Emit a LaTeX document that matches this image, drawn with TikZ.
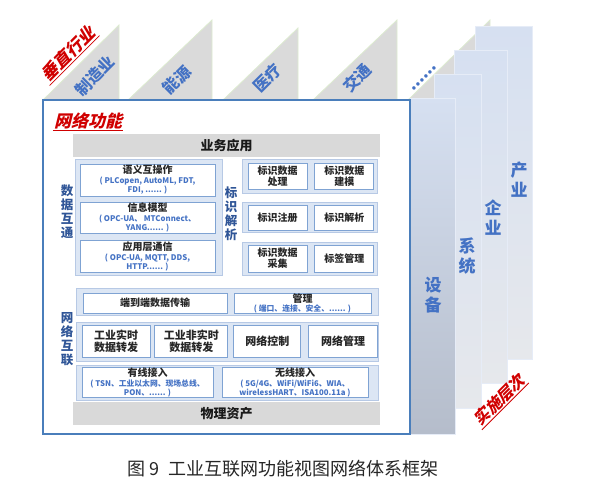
\documentclass[tikz,border=0pt]{standalone}
\usepackage{fontspec}
\setmainfont{Noto Sans CJK SC}
\newfontfamily\slantfont{Noto Sans CJK SC}[FakeSlant=0.25]
\usepackage{tikz}
\usetikzlibrary{positioning}
\usepackage{xcolor}

\definecolor{frameblue}{HTML}{4A7EBB}
\definecolor{grpfill}{HTML}{DCE6F4}
\definecolor{grpline}{HTML}{B7C9E5}
\definecolor{cellline}{HTML}{7FA3D3}
\definecolor{bargray}{HTML}{D9D9D9}
\definecolor{txtblue}{HTML}{4472C4}
\definecolor{sideblue}{HTML}{2F5597}
\definecolor{tagred}{HTML}{D00000}
\definecolor{trigray}{HTML}{DADADA}
\definecolor{triline}{HTML}{DDEBD0}
\definecolor{coltop}{HTML}{D6E0F1}
\definecolor{colmid}{HTML}{AAB1BE}
\definecolor{colbot}{HTML}{E6E8EC}

\newcommand{\subtxt}[1]{{\color{txtblue}\fontsize{7.8}{8.5}\selectfont #1}}

\begin{document}
\begin{tikzpicture}[x=1pt, y=-1pt,
    tri/.style={fill=trigray, draw=triline, line width=0.8pt},
    col/.style={draw=coltop!60!white, line width=0.6pt, top color=coltop, middle color=colmid, bottom color=colbot},
    grp/.style={draw=grpline, fill=grpfill, line width=1pt, inner sep=0pt},
    cell/.style={draw=cellline, fill=white, line width=0.9pt, inner sep=0pt, align=center, text=black!85, font=\bfseries\fontsize{10}{11}\selectfont},
    bar/.style={fill=bargray, inner sep=0pt, text=black!90, font=\bfseries\fontsize{13}{14}\selectfont},
    ind/.style={rotate=45, text=txtblue, font=\bfseries\fontsize{16}{16}\selectfont},
    lvl/.style={text=txtblue, align=center, font=\bfseries\fontsize{17}{20}\selectfont},
    side/.style={text=sideblue, align=center, font=\bfseries\fontsize{12.5}{14}\selectfont},
    tag/.style={text=tagred, inner sep=1pt, font=\slantfont\bfseries\fontsize{17}{17}\selectfont}]
    \useasboundingbox (0,0) rectangle (596,496);

    % Vertical industries
    \draw[tri] (43,100) -- (119,25) -- (119,100) -- cycle;
    \draw[tri] (128,100) -- (212,20) -- (212,100) -- cycle;
    \draw[tri] (223,100) -- (298,28) -- (298,100) -- cycle;
    \draw[tri] (313,100) -- (397,20) -- (397,100) -- cycle;
    \draw[tri] (408,100) -- (490,20) -- (490,100) -- cycle;
    \node (manu) [ind] at (95,76) {制造业};
    \node (energy) [ind] at (177,80) {能源};
    \node (med) [ind] at (267,78) {医疗};
    \node (traffic) [ind] at (357,78) {交通};
    \node (more) [ind] at (424,78) {......};
    \node (vert) [tag, rotate=45] at (68,54) {垂直行业};
    \draw[tagred, line width=0.8pt] (vert.south west) -- (vert.south east);

    % Implementation levels
    \path[col] (475,26) rectangle (532,359);
    \path[col] (454,50) rectangle (507,383);
    \path[col] (434,74) rectangle (481,408);
    \path[col, middle color=coltop!55!colmid, bottom color=colmid!75!coltop] (410,98) rectangle (455,434);
    \node (indus) [lvl] at (519,180) {产\\业};
    \node (ent) [lvl] at (493,218) {企\\业};
    \node (sys) [lvl] at (467,256) {系\\统};
    \node (dev) [lvl] at (433,295) {设\\备};
    \node (impl) [tag, rotate=45, font=\slantfont\bfseries\fontsize{16}{16}\selectfont] at (499,400) {实施层次};
    \draw[tagred, line width=0.8pt] (impl.south west) -- (impl.south east);

    % Network function frame
    \draw[frameblue, line width=1.5pt, fill=white] (43,100) rectangle (410,434);
    \node (netfn) [tag] at (88,121) {网络功能};
    \draw[tagred, line width=0.8pt] (netfn.south west) -- (netfn.south east);

    \node (bizapp) [bar, minimum width=307, minimum height=23] at (226.5,145.5) {业务应用};
    \node (phys) [bar, minimum width=307, minimum height=23] at (226.5,413.5) {物理资产};

    % Data interoperability
    \node (datagrp) [grp, minimum width=147, minimum height=116] at (148.5,217) {};
    \node (datalbl) [side] at (67,212) {数\\据\\互\\通};
    \node (sem) [cell, minimum width=135, minimum height=32] at (147.5,180)
        {语义互操作\\[-1pt]\subtxt{( PLCopen, AutoML, FDT,}\\[-2pt]\subtxt{FDI, ...... )}};
    \node (info) [cell, minimum width=135, minimum height=31] at (147.5,217.5)
        {信息模型\\[-1pt]\subtxt{( OPC-UA、 MTConnect、}\\[-2pt]\subtxt{YANG...... )}};
    \node (comm) [cell, minimum width=135, minimum height=32] at (147.5,256)
        {应用层通信\\[-1pt]\subtxt{( OPC-UA, MQTT, DDS,}\\[-2pt]\subtxt{HTTP...... )}};

    % Identifier resolution
    \node (idlbl) [side] at (231,214) {标\\识\\解\\析};
    \node (idgrp1) [grp, minimum width=135, minimum height=34] at (309.5,176) {};
    \node (idgrp2) [grp, minimum width=135, minimum height=30] at (309.5,217) {};
    \node (idgrp3) [grp, minimum width=135, minimum height=33] at (309.5,258.5) {};
    \node (idproc) [cell, minimum width=59, minimum height=26] at (277.5,176) {标识数据\\处理};
    \node (idmodel) [cell, minimum width=59, minimum height=26, right=7pt of idproc] {标识数据\\建模};
    \node (idreg) [cell, minimum width=59, minimum height=25] at (277.5,217.5) {标识注册};
    \node (idres) [cell, minimum width=59, minimum height=25, right=7pt of idreg] {标识解析};
    \node (idcol) [cell, minimum width=59, minimum height=27] at (277.5,258.5) {标识数据\\采集};
    \node (tagmgr) [cell, minimum width=59, minimum height=27, right=7pt of idcol] {标签管理};

    % Network interconnection
    \node (netlbl) [side] at (67,339) {网\\络\\互\\联};
    \node (netgrp1) [grp, minimum width=302, minimum height=27] at (227,301.5) {};
    \node (netgrp2) [grp, minimum width=302, minimum height=39] at (227,341.5) {};
    \node (netgrp3) [grp, minimum width=302, minimum height=35] at (227,382.5) {};
    \node (e2e) [cell, minimum width=144, minimum height=20] at (155,303) {端到端数据传输};
    \node (mgmt) [cell, minimum width=137, minimum height=20] at (302.5,303)
        {管理\\[-2pt]\subtxt{( 端口、连接、安全、...... )}};
    \node (rt) [cell, minimum width=68, minimum height=32, font=\bfseries\fontsize{11}{12}\selectfont] at (116,341) {工业实时\\数据转发};
    \node (nrt) [cell, minimum width=73, minimum height=32, font=\bfseries\fontsize{11}{12}\selectfont, right=4pt of rt] {工业非实时\\数据转发};
    \node (ctrl) [cell, minimum width=67, minimum height=32, font=\bfseries\fontsize{11}{12}\selectfont, right=5pt of nrt] {网络控制};
    \node (netmgr) [cell, minimum width=69, minimum height=32, font=\bfseries\fontsize{11}{12}\selectfont, right=7pt of ctrl] {网络管理};
    \node (wired) [cell, minimum width=131, minimum height=29] at (147.5,382.5)
        {有线接入\\[-1pt]\subtxt{( TSN、工业以太网、现场总线、}\\[-2pt]\subtxt{PON、...... )}};
    \node (wless) [cell, minimum width=146, minimum height=29] at (295,382.5)
        {无线接入\\[-1pt]\subtxt{( 5G/4G、WiFi/WiFi6、WIA、}\\[-2pt]\subtxt{wirelessHART、ISA100.11a )}};

    % Caption
    \node (caption) [text=black!85, font=\fontsize{18}{18}\selectfont] at (283,469) {图 9\ \ 工业互联网功能视图网络体系框架};
\end{tikzpicture}
\end{document}
